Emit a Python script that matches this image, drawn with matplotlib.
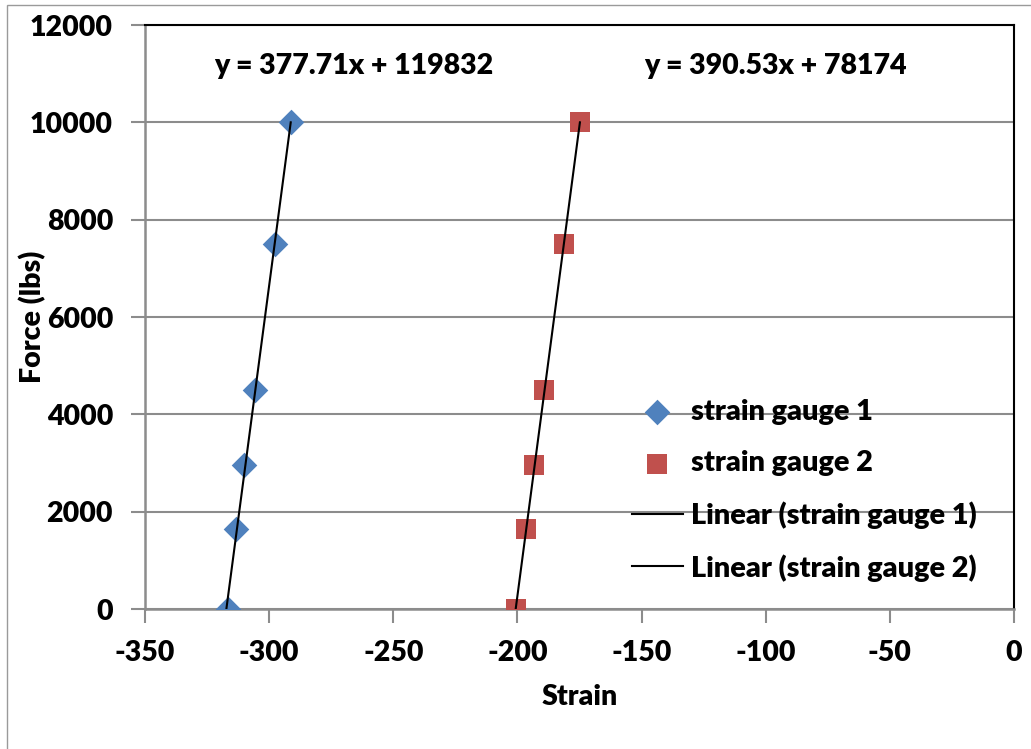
import numpy as np
import matplotlib
matplotlib.use("Agg")
import matplotlib.pyplot as plt
from matplotlib.patches import Rectangle

force = [0, 1650, 2950, 4500, 7500, 10000]
strain1 = [-316.5, -313.3, -310.0, -305.8, -297.8, -291.0]
strain2 = [-200.5, -196.5, -193.2, -189.2, -181.2, -174.8]
eq1 = "y = 377.71x + 119832"
eq2 = "y = 390.53x + 78174"
xticks = [-350, -300, -250, -200, -150, -100, -50, 0]
yticks = [0, 2000, 4000, 6000, 8000, 10000, 12000]

plt.rcParams['font.family'] = ['Lato', 'DejaVu Sans']
W = 'heavy'

fig = plt.figure(figsize=(10.31, 7.49), dpi=100)
fig.patches.append(Rectangle((7/1031, -0.01), 1.05, 1 - 5/749 + 0.01, transform=fig.transFigure,
                             fill=False, edgecolor='#9a9a9a', linewidth=1.0))
ax = fig.add_axes([145/1031, 1-609/749, (1014-145)/1031, (609-25)/749])

blue = '#4F81BD'
red = '#C0504D'
grid = '#8c8c8c'

ax.scatter(strain1, force, marker='D', s=170, color=blue, zorder=3, label='strain gauge 1', linewidths=0)
ax.scatter(strain2, force, marker='s', s=215, color=red, zorder=3, label='strain gauge 2', linewidths=0)

for s, lab in ((strain1, 'Linear (strain gauge 1)'), (strain2, 'Linear (strain gauge 2)')):
    s = np.array(s)
    m, b = np.polyfit(force, s, 1)
    yy = np.array([min(force), max(force)])
    ax.plot(m*yy + b, yy, color='black', linewidth=1.5, zorder=4, label=lab)

ax.set_xlim(-350, 0)
ax.set_ylim(0, 12000)
ax.set_xticks(xticks)
ax.set_yticks(yticks)
ax.set_xticklabels([str(v) for v in xticks], fontweight=W)
ax.set_yticklabels([str(v) for v in yticks], fontweight=W)
ax.tick_params(axis='both', labelsize=20.5, length=10, width=1.5, color=grid, direction='out')
ax.tick_params(axis='y', pad=13)
ax.tick_params(axis='x', pad=12)
ax.yaxis.grid(True, color=grid, linewidth=1.5)
ax.set_axisbelow(True)
for sp in ('left', 'bottom'):
    ax.spines[sp].set_color(grid)
    ax.spines[sp].set_linewidth(1.8)
    ax.spines[sp].set_zorder(2.5)
for sp in ('top', 'right'):
    ax.spines[sp].set_color('black')
    ax.spines[sp].set_linewidth(1.5)

ax.set_xlabel('Strain', fontsize=20.5, fontweight=W)
ax.set_ylabel('Force (lbs)', fontsize=20.5, fontweight=W)
ax.xaxis.set_label_coords(0.5, (609-684)/584)
ax.yaxis.set_label_coords((46-145)/869, 0.5)

ax.text(-266, 11150, eq1, fontsize=20.5, fontweight=W, ha='center', va='center')
ax.text(-96, 11150, eq2, fontsize=20.5, fontweight=W, ha='center', va='center')

leg = ax.legend(loc='upper left', bbox_to_anchor=(632/1031, 1-399/749), bbox_transform=fig.transFigure,
                frameon=False, prop={'size': 20.8, 'weight': W},
                handlelength=1.75, handletextpad=0.28, labelspacing=0.87, borderaxespad=0, borderpad=0)

fig.savefig('out.png', dpi=100)
